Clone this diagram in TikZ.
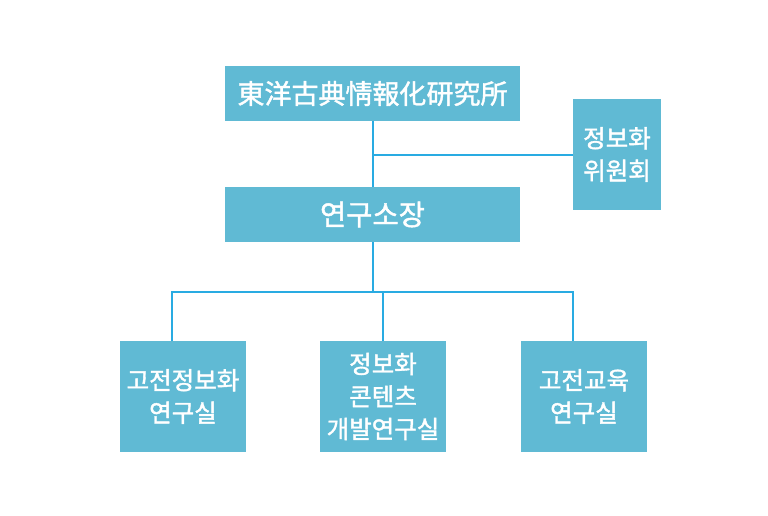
\documentclass[tikz,border=0pt]{standalone}
\usepackage{fontspec}
\setmainfont{Noto Sans CJK KR}
\newfontfamily\medfont[FakeBold=1.5]{Noto Sans CJK KR}
\definecolor{boxBlue}{RGB}{96, 186, 212}
\definecolor{lineBlue}{RGB}{41, 171, 226}
\usetikzlibrary{positioning}

\begin{document}
\begin{tikzpicture}[x=1pt, y=-1pt, line width=2pt,
    orgbox/.style={rectangle, fill=boxBlue, text=white, inner sep=0pt, outer sep=0pt, align=center},
    wide/.style={orgbox, minimum width=295pt, minimum height=55pt, font=\medfont\fontsize{27pt}{32pt}\selectfont},
    unit/.style={orgbox, minimum width=126pt, minimum height=111pt, font=\medfont\fontsize{24.5pt}{32.5pt}\selectfont}]
    \useasboundingbox (0,0) rectangle (768,516);

    \node[wide] (inst) at (372.5,93.5) {東洋古典情報化研究所};

    \node[wide, below=66pt of inst, font=\medfont\fontsize{28.5pt}{32pt}\selectfont] (dir) {연구소장};

    \node[unit, minimum width=88pt, minimum height=110pt] (cmt) at (617,154.5) {정보화\\위원회};

    \node[unit] (lab1) at (183,396.5) {고전정보화\\연구실};

    \node[unit, right=74pt of lab1] (lab2) {정보화\\콘텐츠\\개발연구실};

    \node[unit, right=75pt of lab2] (lab3) {고전교육\\연구실};

    \coordinate (bus) at (372.5,291.5);

    \draw[lineBlue] (inst) -- (dir);
    \draw[lineBlue] (cmt.west) -- (inst.south |- cmt.west);
    \draw[lineBlue] (dir.south) -- (dir.south |- bus);
    \draw[lineBlue] ([xshift=-11pt]lab1.north) -- ([xshift=-11pt]lab1.north |- bus) -- ([xshift=-11pt]lab3.north |- bus) -- ([xshift=-11pt]lab3.north);
    \draw[lineBlue] (lab2.north) -- (lab2.north |- bus);
\end{tikzpicture}
\end{document}
